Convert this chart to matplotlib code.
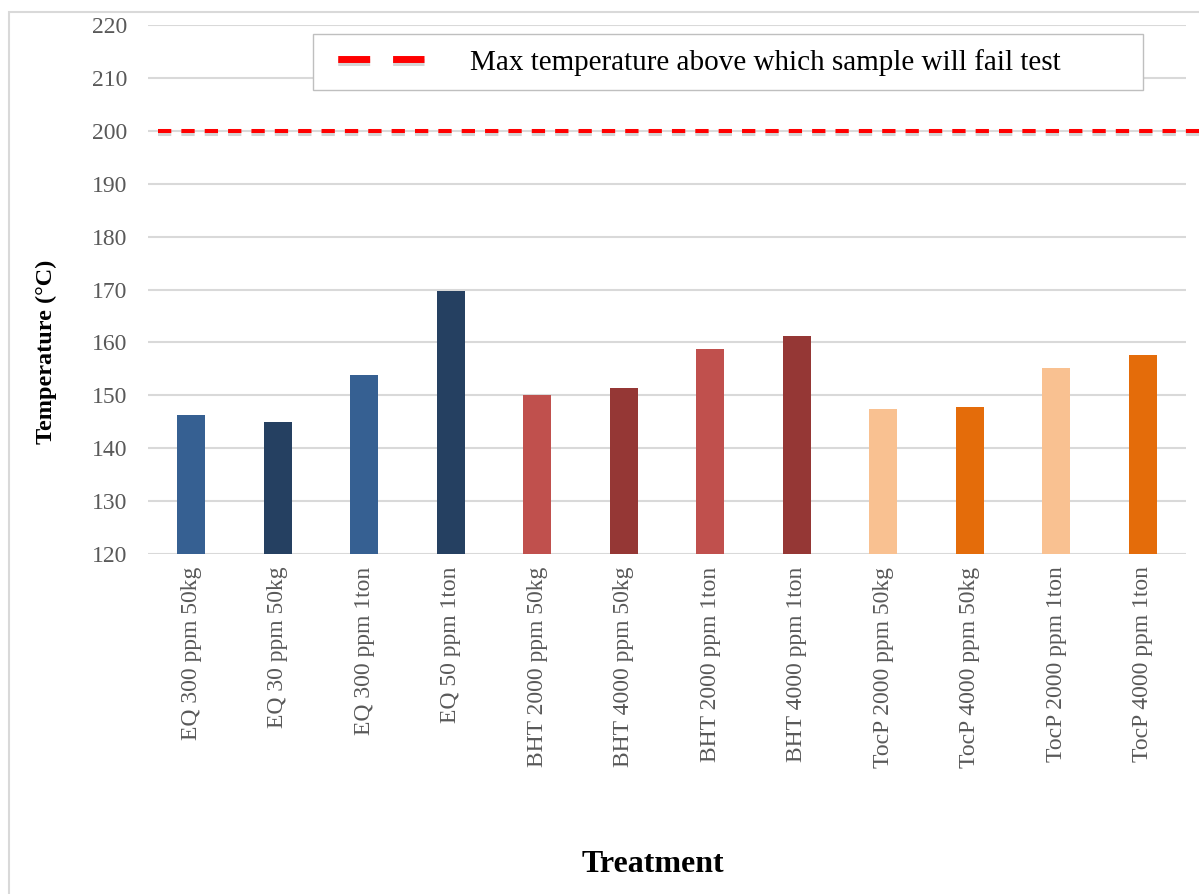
#Bar chart of treatment temperatures with a fail threshold line
import numpy as np
import matplotlib.pyplot as plt
import matplotlib.patheffects as pe
from matplotlib.lines import Line2D
from matplotlib.patches import Rectangle

plt.rcParams['font.family'] = ['Liberation Serif', 'DejaVu Serif']

#Data
treatments = ['EQ 300 ppm 50kg', 'EQ 30 ppm 50kg', 'EQ 300 ppm 1ton', 'EQ 50 ppm 1ton',
              'BHT 2000 ppm 50kg', 'BHT 4000 ppm 50kg', 'BHT 2000 ppm 1ton', 'BHT 4000 ppm 1ton',
              'TocP 2000 ppm 50kg', 'TocP 4000 ppm 50kg', 'TocP 2000 ppm 1ton', 'TocP 4000 ppm 1ton']
temperatures = [146.2, 145.0, 153.9, 169.8,
                150.0, 151.4, 158.8, 161.3,
                147.5, 147.7, 155.2, 157.7]
max_temp = 200
legend_text = 'Max temperature above which sample will fail test'

bar_colors = ['#366092', '#254061', '#366092', '#254061',
              '#C0504D', '#953735', '#C0504D', '#953735',
              '#F9C191', '#E46C0A', '#F9C191', '#E46C0A']

W, H = 1199, 894
fig = plt.figure(figsize=(W / 100, H / 100), dpi=100)
ax = fig.add_axes([148 / W, 1 - 554 / H, (1186 - 148) / W, (554 - 25) / H])

x = np.arange(len(treatments))
ax.bar(x, temperatures, width=0.32, bottom=0, color=bar_colors, zorder=3)

#Threshold line, it runs a bit past the plot on the right
shadow = [pe.SimpleLineShadow(offset=(0, -2.5), shadow_color='#888888', alpha=0.35), pe.Normal()]
thr = Line2D([-0.39, 12.15], [max_temp, max_temp], color='#FF0000', lw=2.9,
             dashes=(3.3, 2.5), clip_on=False, zorder=4, path_effects=shadow)
ax.add_line(thr)

ax.set_xlim(-0.5, 11.5)
ax.set_ylim(120, 220)
ax.set_yticks(np.arange(120, 221, 10))
ax.set_xticks(x)
ax.set_xticklabels(treatments, rotation=90, color='#595959', fontsize=17)
ax.tick_params(axis='y', labelsize=17, labelcolor='#595959', length=0, pad=15)
ax.tick_params(axis='x', length=0, pad=9)
ax.grid(axis='y', color='#D9D9D9', lw=1.5, zorder=0)
for s in ax.spines.values():
    s.set_visible(False)

fig.text(46 / W, 1 - 352 / H, 'Temperature (°C)', rotation=90, fontsize=17.5,
         fontweight='bold', ha='center', va='center')
fig.text(653 / W, 1 - 864 / H, 'Treatment', fontsize=23, fontweight='bold',
         ha='center', va='center')

#Legend box, the dash pattern starts with a short gap
handle = Line2D([], [], color='#FF0000', lw=5, linestyle=(6.5, (4.6, 3.3)),
                path_effects=[pe.SimpleLineShadow(offset=(0, -2), shadow_color='#888888', alpha=0.35), pe.Normal()])
ax.legend([handle], [legend_text], loc='upper left', mode='expand',
          bbox_to_anchor=(313 / W, 1 - 89 / H, (1143 - 313) / W, 55 / H),
          bbox_transform=fig.transFigure, fontsize=21, handlelength=3.3,
          handletextpad=1.6, borderpad=0.5, borderaxespad=0, fancybox=False,
          edgecolor='#BFBFBF', framealpha=1)

#Outer chart border (cut off on the right and bottom)
fig.patches.append(Rectangle((9 / W, -0.1), 1.2, 1 - 12 / H + 0.1, transform=fig.transFigure,
                             fill=False, edgecolor='#D9D9D9', lw=1.5))

fig.savefig('out.png', dpi=100)
